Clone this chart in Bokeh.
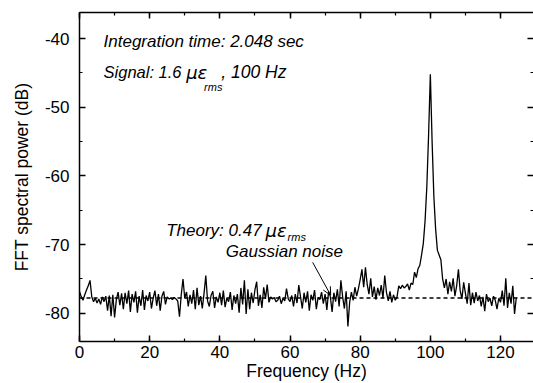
from bokeh.plotting import figure
from bokeh.models import (LinearAxis, Label, Arrow, OpenHead, Span, Range1d,
                          SingleIntervalTicker, ColumnDataSource,
                          PrintfTickFormatter, CustomJSTickFormatter)
from bokeh.embed import file_html
from bokeh.resources import INLINE

# FFT spectral power (dB), 0.5 Hz bins starting at 0 Hz
power = [
    -76.8, -77.6, -78.1, -77.3, -76.6, -76.0, -75.2, -77.6, -78.3, -77.8,
    -78.5, -77.9, -78.7, -77.6, -78.3, -77.5, -79.6, -77.4, -80.4, -77.3,
    -80.6, -78.0, -76.9, -78.8, -77.1, -79.4, -77.0, -78.6, -76.7, -79.8,
    -77.2, -78.4, -76.8, -79.9, -77.5, -78.9, -76.6, -79.5, -77.4, -78.2,
    -76.9, -79.3, -77.8, -76.7, -78.9, -77.2, -79.6, -77.5, -76.8, -78.7,
    -77.6, -77.9, -77.8, -78.0, -77.7, -77.9, -78.2, -80.5, -77.3, -75.0,
    -77.8, -76.9, -79.0, -77.3, -78.6, -76.6, -79.4, -76.3, -78.8, -77.5,
    -79.3, -77.1, -74.5, -78.2, -79.0, -77.4, -76.8, -79.2, -77.6, -78.4,
    -77.0, -78.8, -76.7, -79.1, -77.8, -78.3, -76.9, -79.5, -77.4, -78.6,
    -77.2, -79.9, -76.3, -78.7, -75.2, -80.1, -76.5, -79.4, -77.0, -78.5,
    -76.6, -75.4, -78.9, -77.3, -79.2, -76.2, -77.9, -75.8, -78.4, -77.6,
    -77.9, -77.7, -78.3, -78.1, -77.5, -78.6, -77.8, -78.2, -76.4, -77.9,
    -78.3, -77.4, -79.0, -77.2, -78.5, -75.9, -77.6, -79.3, -77.0, -78.4,
    -76.8, -79.6, -77.3, -78.1, -76.6, -79.4, -77.7, -78.0, -76.9, -78.6,
    -77.2, -79.5, -76.8, -77.6, -79.8, -77.0, -78.3, -76.5, -79.0, -75.2,
    -77.6, -79.3, -76.8, -81.9, -78.4, -76.9, -78.1, -76.2, -77.5, -76.4,
    -75.1, -73.6, -76.2, -73.3, -75.8, -77.2, -74.9, -77.6, -76.1, -78.0,
    -76.3, -77.4, -75.9, -77.8, -74.5, -77.0, -78.2, -76.8, -78.4, -77.3,
    -78.1, -77.6, -76.0, -76.4, -75.9, -76.3, -76.1, -75.7, -76.6, -75.6,
    -75.8, -74.0, -74.8, -73.5, -73.0, -71.5, -69.8, -66.5, -61.5, -54.0,
    -45.2, -55.0, -63.0, -67.7, -70.8, -71.5, -72.2, -75.0, -76.3, -75.0,
    -77.2, -75.4, -76.8, -74.9, -77.5, -76.0, -73.6, -76.7, -77.9, -75.5,
    -77.1, -78.6, -75.6, -78.8, -77.0, -78.5, -76.9, -78.2, -77.4, -79.0,
    -77.6, -79.7, -77.2, -78.3, -77.8, -78.9, -77.5, -78.1, -79.4, -77.8,
    -78.4, -76.7, -78.9, -74.9, -79.2, -77.0, -78.6, -76.0, -80.1, -77.7,
]
bin_width = 0.5
freq = [i * bin_width for i in range(len(power))]
theory_level = -77.75

FONT = "Liberation Sans"

p = figure(width=533, height=383, output_backend="svg", toolbar_location=None,
           x_range=Range1d(0, 129.4), y_range=Range1d(-84.1, -36.2),
           min_border_left=79, min_border_right=0, min_border_top=12,
           min_border_bottom=0)
p.xgrid.visible = False
p.ygrid.visible = False
p.outline_line_color = None
p.background_fill_color = "white"
p.border_fill_color = "white"

def style_axis(ax, labels=True):
    ax.major_tick_in = 6
    ax.major_tick_out = 0
    ax.minor_tick_in = 3
    ax.minor_tick_out = 0
    ax.axis_line_width = 1.5
    ax.major_tick_line_width = 1.5
    ax.minor_tick_line_width = 1.2
    ax.axis_line_color = "black"
    ax.major_tick_line_color = "black"
    ax.minor_tick_line_color = "black"
    if labels:
        ax.formatter = PrintfTickFormatter(format="%d")
        ax.major_label_text_font = FONT
        ax.major_label_text_font_size = "17px"
        ax.major_label_text_color = "black"
        ax.axis_label_text_font = FONT
        ax.axis_label_text_font_size = "17.5px"
        ax.axis_label_text_font_style = "normal"
        ax.axis_label_text_color = "black"
    else:
        ax.formatter = CustomJSTickFormatter(code="return ''")
        ax.major_label_text_font_size = "1px"
        ax.major_label_standoff = 0

xt = SingleIntervalTicker(interval=20, num_minor_ticks=2)
yt = SingleIntervalTicker(interval=10, num_minor_ticks=2)

xa = p.xaxis[0]
xa.ticker = xt
xa.axis_label = "Frequency (Hz)"
style_axis(xa)
xa.major_label_standoff = 4
xa.axis_label_standoff = 0

ya = p.yaxis[0]
ya.ticker = yt
ya.axis_label = "FFT spectral power (dB)"
style_axis(ya)
ya.major_label_standoff = 10
ya.axis_label_standoff = 10

top = LinearAxis(ticker=SingleIntervalTicker(interval=20, num_minor_ticks=2))
style_axis(top, labels=False)
p.add_layout(top, "above")

right = LinearAxis(ticker=SingleIntervalTicker(interval=10, num_minor_ticks=2))
style_axis(right, labels=False)
right.axis_line_color = None
p.add_layout(right, "right")

p.add_layout(Span(location=theory_level, dimension="width", line_color="black",
                  line_dash="4 3", line_width=1.5))

src = ColumnDataSource(dict(f=freq, db=power))
p.line("f", "db", source=src, line_color="black", line_width=1.3)

def lab(x, y, text, size="17px", font=FONT):
    p.add_layout(Label(x=x, y=y, text=text,
                       text_font=font, text_font_style="italic",
                       text_font_size=size, text_color="black",
                       text_baseline="alphabetic", text_align="left"))

lab(6.85, -40.4, "Integration time: 2.048 sec")
lab(6.85, -44.9, "Signal: 1.6", size="16.5px")
lab(30.4, -44.9, "\u03bc\u03b5", size="18px", font="DejaVu Sans")
lab(35.5, -47.0, "rms", size="11px")
lab(40.4, -44.9, ", 100 Hz", size="17.5px")

lab(24.7, -67.96, "Theory: 0.47")
lab(53.0, -67.96, "\u03bc\u03b5", size="18px", font="DejaVu Sans")
lab(59.3, -68.85, "rms", size="11px")
lab(41.7, -70.94, "Gaussian noise")

p.add_layout(Arrow(x_start=66.46, y_start=-72.58, x_end=71.59, y_end=-77.36,
                   line_color="black", line_width=1,
                   end=OpenHead(size=8, line_color="black", line_width=1)))

open("out.html", "w").write(file_html(p, INLINE))
